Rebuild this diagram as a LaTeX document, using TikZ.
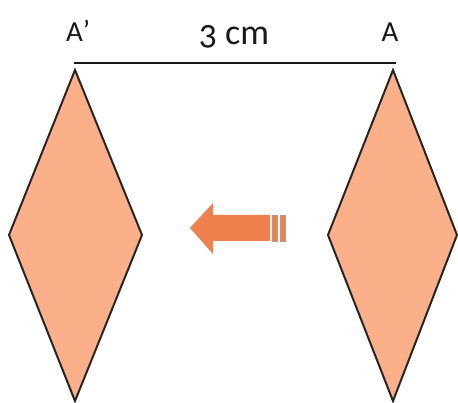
\documentclass[tikz,border=0pt]{standalone}
\usepackage{fontspec}
\setmainfont{Carlito}[Numbers=OldStyle,Ligatures=ResetAll]
\begin{document}
\begin{tikzpicture}[x=1pt,y=-1pt,
  rhombus/.style={draw=black!85,line width=2pt,fill=diamondfill,line join=miter},
  lbl/.style={inner sep=0pt,font=\fontsize{29}{29}\selectfont,text=black!90}]
\definecolor{diamondfill}{HTML}{FBB08A}
\definecolor{arrowor}{HTML}{F0804C}
\definecolor{stripeedge}{HTML}{B09A90}
\useasboundingbox (0,0) rectangle (458,403);
\fill[white] (0,0) rectangle (458,403);
% left diamond A'
\coordinate (Lt) at (75,70);
\coordinate (Lr) at (142,235);
\coordinate (Lb) at (75,401);
\coordinate (Ll) at (9,235);
\draw[rhombus] (Lt) -- (Lr) -- (Lb) -- (Ll) -- cycle;
% right diamond A
\coordinate (Rt) at (393,70);
\coordinate (Rr) at (457,235);
\coordinate (Rb) at (393,401);
\coordinate (Rl) at (328,235);
\draw[rhombus] (Rt) -- (Rr) -- (Rb) -- (Rl) -- cycle;
% distance line
\coordinate (la) at (74,63);
\coordinate (lb) at (396,63);
\draw[line width=2pt,black!90] (la) -- (lb);
% labels
\node[lbl,anchor=base west] (ap) at (66,42) {A\raisebox{1pt}{'}};
\node[lbl,anchor=base] (a) at (390,42) {A};
\node[inner sep=0pt,anchor=base,font=\fontsize{36}{36}\selectfont,text=black!90] (d) at (234,45) {3 cm};
% arrow
\fill[arrowor] (190,228) -- (213,203) -- (213,215) -- (270,215) -- (270,241) -- (213,241) -- (213,254) -- cycle;
\fill[arrowor,draw=stripeedge,line width=0.8pt] (272,215) rectangle (277,241);
\fill[arrowor,draw=stripeedge,line width=0.8pt] (280,215) rectangle (285,241);
\end{tikzpicture}
\end{document}
